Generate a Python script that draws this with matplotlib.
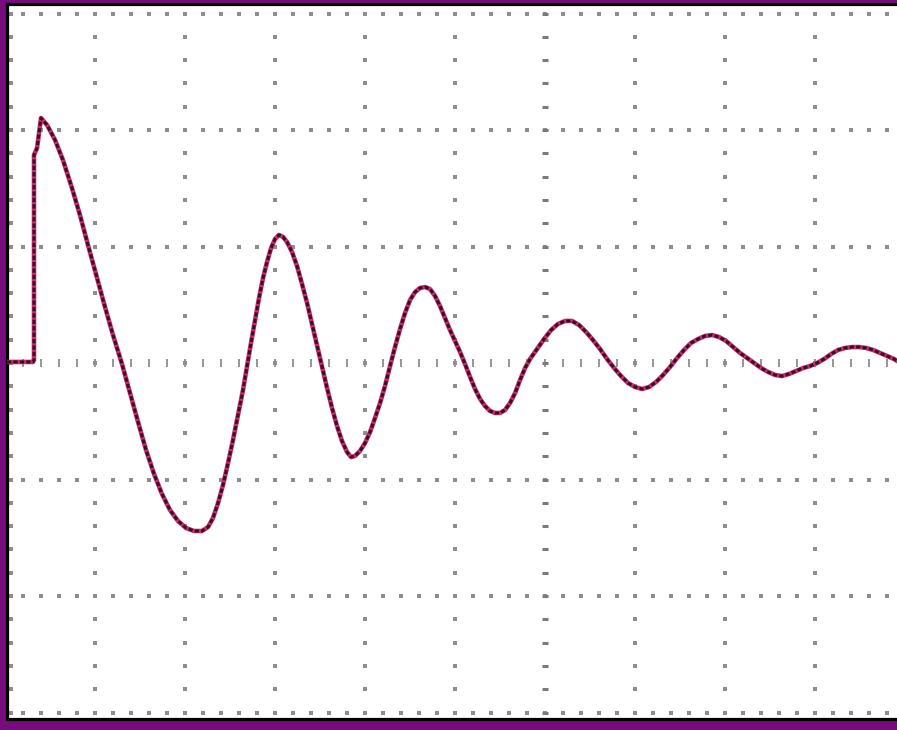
import numpy as np
import matplotlib
matplotlib.use("Agg")
import matplotlib.pyplot as plt

# time in ms (1 division = 1 ms), voltage in V (1 division = 1 V)
t_ms = [0.022, 0.311, 0.322, 0.322, 0.356, 0.400, 0.467, 0.556, 0.644, 0.744,
        0.833, 0.922, 1.022, 1.111, 1.200, 1.300, 1.389, 1.478, 1.567, 1.656,
        1.744, 1.833, 1.922, 2.011, 2.100, 2.189, 2.256, 2.311, 2.367, 2.422,
        2.478, 2.533, 2.589, 2.644, 2.689, 2.733, 2.778, 2.822, 2.867, 2.911,
        2.956, 3.000, 3.044, 3.089, 3.133, 3.189, 3.244, 3.300, 3.356, 3.411,
        3.467, 3.522, 3.578, 3.633, 3.689, 3.744, 3.800, 3.844, 3.889, 3.944,
        4.000, 4.056, 4.111, 4.167, 4.222, 4.278, 4.333, 4.389, 4.444, 4.500,
        4.556, 4.611, 4.667, 4.722, 4.778, 4.833, 4.889, 4.944, 5.000, 5.056,
        5.111, 5.167, 5.222, 5.278, 5.333, 5.389, 5.444, 5.500, 5.556, 5.611,
        5.667, 5.722, 5.778, 5.833, 5.911, 5.989, 6.067, 6.144, 6.222, 6.300,
        6.378, 6.456, 6.533, 6.611, 6.689, 6.767, 6.844, 6.922, 7.000, 7.078,
        7.156, 7.233, 7.311, 7.389, 7.467, 7.544, 7.622, 7.700, 7.778, 7.856,
        7.933, 8.011, 8.089, 8.167, 8.244, 8.322, 8.400, 8.478, 8.556, 8.633,
        8.711, 8.789, 8.867, 8.944, 9.022, 9.100, 9.178, 9.256, 9.333, 9.411,
        9.489, 9.567, 9.644, 9.722, 9.800, 9.878, 9.911]
v_out = [0.009, 0.009, 0.026, 1.785, 1.845, 2.103, 2.043, 1.914, 1.742, 1.502,
         1.270, 1.013, 0.730, 0.481, 0.240, -0.009, -0.258, -0.506, -0.747, -0.953,
         -1.124, -1.262, -1.356, -1.416, -1.442, -1.442, -1.408, -1.330, -1.202, -1.047,
         -0.858, -0.661, -0.446, -0.232, -0.026, 0.172, 0.369, 0.558, 0.730, 0.867,
         0.987, 1.064, 1.099, 1.082, 1.039, 0.953, 0.833, 0.678, 0.515, 0.335,
         0.155, -0.026, -0.215, -0.386, -0.541, -0.670, -0.764, -0.807, -0.798, -0.755,
         -0.687, -0.592, -0.472, -0.343, -0.197, -0.026, 0.137, 0.292, 0.429, 0.541,
         0.609, 0.644, 0.652, 0.635, 0.575, 0.489, 0.386, 0.283, 0.189, 0.094,
         -0.009, -0.120, -0.223, -0.309, -0.369, -0.412, -0.429, -0.429, -0.403, -0.343,
         -0.258, -0.146, -0.043, 0.034, 0.120, 0.206, 0.283, 0.335, 0.361, 0.361,
         0.326, 0.266, 0.197, 0.120, 0.034, -0.043, -0.112, -0.172, -0.206, -0.223,
         -0.206, -0.163, -0.103, -0.034, 0.043, 0.112, 0.172, 0.206, 0.232, 0.240,
         0.223, 0.189, 0.137, 0.086, 0.043, 0.000, -0.043, -0.077, -0.103, -0.112,
         -0.094, -0.069, -0.043, -0.026, 0.000, 0.034, 0.077, 0.112, 0.129, 0.137,
         0.137, 0.129, 0.112, 0.086, 0.060, 0.034, 0.017]

x_divs = list(range(0, 11))
y_divs = list(range(-3, 4))
center_x_div = 6
edge_tick_x = 0.07

W, H = 897, 730
fig = plt.figure(figsize=(W / 100, H / 100), dpi=100, facecolor="#780c7c")
left_px, right_px, top_px, bot_px = 7, 906, 4, 719
ax = fig.add_axes([left_px / W, (H - bot_px) / H,
                   (right_px - left_px) / W, (bot_px - top_px) / H])
ax.set_facecolor("white")
ax.set_xlim((left_px - 5) / 90, 10.01)
ax.set_ylim((363 - bot_px) / 116.5, (363 - top_px) / 116.5)
for s in ["left", "top", "bottom"]:
    ax.spines[s].set_color("black")
    ax.spines[s].set_linewidth(2.3)
ax.spines["right"].set_visible(False)
ax.set_xticks([])
ax.set_yticks([])

dot_col = "#8e8e8e"
minor_x = np.arange(0, 50.001, 1) * 0.2
minor_y = np.arange(-15, 15.001, 1) * 0.2
# horizontal dotted rows
for yv in y_divs:
    if yv == 0:
        ax.plot(minor_x, np.zeros_like(minor_x), ls="none", marker="|",
                ms=6, mew=1.4, color="#969696", zorder=1)
    else:
        ax.plot(minor_x, np.full_like(minor_x, yv), ls="none", marker="s",
                ms=2.3, mew=0, color=dot_col, zorder=1)
# vertical dotted columns
for xv in x_divs:
    if xv == center_x_div:
        ax.plot(np.full_like(minor_y, xv), minor_y, ls="none", marker="_",
                ms=4.0, mew=2.2, color="#7a7a7a", zorder=1)
    else:
        ax.plot(np.full_like(minor_y, xv), minor_y, ls="none", marker="s",
                ms=2.3, mew=0, color=dot_col, zorder=1)
# edge tick column
ax.plot(np.full_like(minor_y, edge_tick_x), minor_y, ls="none", marker="s",
        ms=2.3, mew=0, color=dot_col, zorder=1)

# trace
ax.plot(t_ms, v_out, color="#cc2f68", lw=3.3, solid_joinstyle="round",
        solid_capstyle="round", zorder=3)
ax.plot(t_ms, v_out, color="#2a0a25", lw=2.2, ls=(0, (1.4, 0.7)),
        alpha=0.9, zorder=4)

fig.savefig("out.png", dpi=100, facecolor=fig.get_facecolor())
